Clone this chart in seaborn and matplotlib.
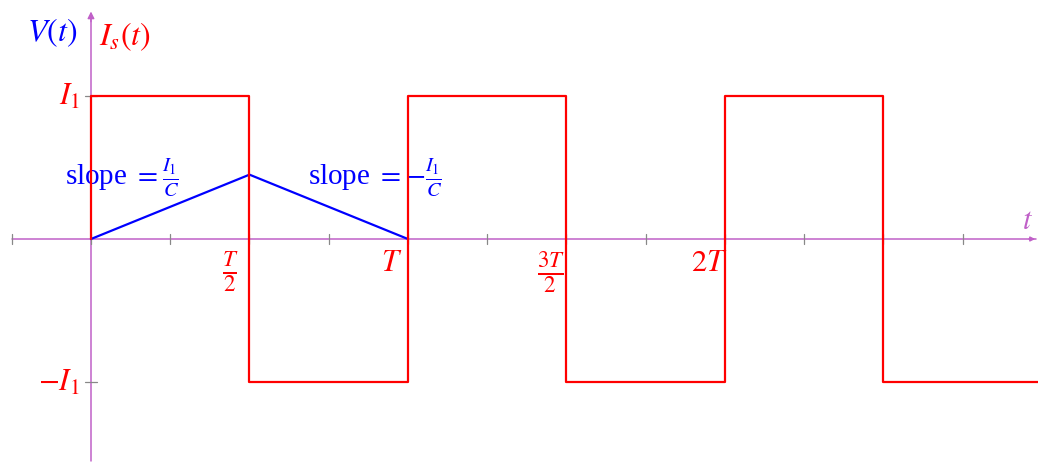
import matplotlib
matplotlib.use("Agg")
import matplotlib.pyplot as plt
import seaborn as sns
import pandas as pd

sns.set_theme(style="white")
plt.rcParams["font.family"] = ["Liberation Serif", "DejaVu Serif"]
plt.rcParams["mathtext.fontset"] = "stix"

# Source current: square wave, in units of T/2 on x and I1 on y
current_t = [0, 0, 1, 2, 3, 4, 5, 6]
current_i = [0, 1, -1, 1, -1, 1, -1, -1]

# Capacitor voltage over one period
voltage_t = [0, 1, 2]
voltage_v = [0, 0.45, 0]

xtick_labels = [r"$\frac{T}{2}$", r"$T$", r"$\frac{3T}{2}$", r"$2T$"]
xtick_centers = [0.88, 1.9, 2.9, 3.9]
xtick_sizes = [23.5, 22, 23.5, 22]
ytick_pos = [1, -1]
ytick_labels = [r"$I_1$", r"$-I_1$"]

RED = "#ff0000"
BLUE = "#0000ff"
AXIS = "#c060c8"
TICK = "#888888"
FS = 22

fig = plt.figure(figsize=(10.38, 4.64), dpi=100)
ax = fig.add_axes([0, 0, 1, 1])

# Coordinate axes with arrows
ax.plot([-0.5, 5.96], [0, 0], color=AXIS, lw=1.1, zorder=1)
ax.annotate("", xy=(5.975, 0), xytext=(5.9, 0),
            arrowprops=dict(arrowstyle="-|>", color=AXIS, lw=1.0,
                            mutation_scale=7), zorder=1)
ax.plot([0, 0], [-1.555, 1.55], color=AXIS, lw=1.1, zorder=1)
ax.annotate("", xy=(0, 1.61), xytext=(0, 1.5),
            arrowprops=dict(arrowstyle="-|>", color=AXIS, lw=1.0,
                            mutation_scale=10), zorder=1)

# Small tick marks every T/4
for k in range(-1, 12):
    xv = k * 0.5
    ax.plot([xv, xv], [-0.035, 0.035], color=TICK, lw=0.9, zorder=2)
for yv in ytick_pos:
    ax.plot([-0.038, 0.038], [yv, yv], color=TICK, lw=0.9, zorder=2)

cur = pd.DataFrame({"t": current_t, "i": current_i})
sns.lineplot(data=cur, x="t", y="i", ax=ax, color=RED, lw=1.6,
             drawstyle="steps-post", estimator=None, sort=False, zorder=4)

vol = pd.DataFrame({"t": voltage_t, "v": voltage_v})
sns.lineplot(data=vol, x="t", y="v", ax=ax, color=BLUE, lw=1.6,
             estimator=None, sort=False, zorder=3)
ax.set_xlim(-0.574, 5.975)
ax.set_ylim(-1.566, 1.678)
ax.axis("off")

# Tick labels
for xc, lab, fs in zip(xtick_centers, xtick_labels, xtick_sizes):
    ax.text(xc, -0.065, lab, color=RED, fontsize=fs, ha="center", va="top")
for yv, lab in zip(ytick_pos, ytick_labels):
    ax.text(-0.07, yv, lab, color=RED, fontsize=FS, ha="right", va="center")

# Axis names
ax.text(-0.246, 1.447, r"$V(t)$", color=BLUE, fontsize=23, ha="center", va="center")
ax.text(0.215, 1.42, r"$I_s(t)$", color=RED, fontsize=23, ha="center", va="center")
ax.text(5.91, 0.126, r"$t$", color=AXIS, fontsize=FS, ha="center", va="center")

# Slope annotations
ax.text(-0.164, 0.44, r"slope $=\frac{I_1}{C}$", color=BLUE, fontsize=21,
        ha="left", va="center")
ax.text(1.369, 0.44, r"slope $=-\frac{I_1}{C}$", color=BLUE, fontsize=21,
        ha="left", va="center")

fig.savefig("out.png", dpi=100)
